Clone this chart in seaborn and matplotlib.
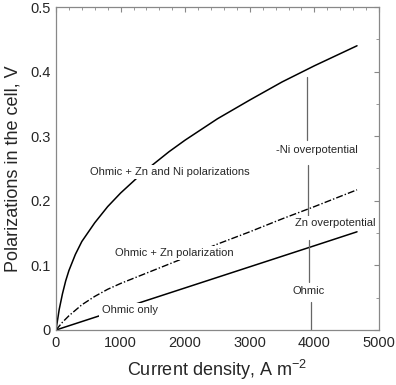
import matplotlib
matplotlib.use("Agg")
import matplotlib.pyplot as plt
import seaborn as sns
from matplotlib.ticker import MultipleLocator, FuncFormatter

# -----------------------------
# Data
# -----------------------------
# Ohmic + Zn and Ni polarizations (solid, top)
total_x = [0, 25, 50, 100, 150, 200, 300, 400, 600, 800, 1000, 1250, 1500,
           1750, 2000, 2500, 3000, 3500, 4000, 4660]
total_y = [0, 0.016, 0.032, 0.056, 0.076, 0.092, 0.117, 0.137, 0.166, 0.191,
           0.212, 0.235, 0.256, 0.276, 0.294, 0.327, 0.356, 0.384, 0.409, 0.440]

# Ohmic + Zn polarization (dash-dot)
zn_x = [0, 100, 200, 400, 600, 800, 1000, 1500, 2000, 2500, 3000, 3500,
        4000, 4660]
zn_y = [0, 0.012, 0.022, 0.039, 0.052, 0.063, 0.072, 0.092, 0.112, 0.133,
        0.152, 0.172, 0.191, 0.217]

# Ohmic only (solid, bottom)
ohmic_x = [0, 1000, 2000, 3000, 4000, 4660]
ohmic_y = [0, 0.0326, 0.0652, 0.0978, 0.1304, 0.152]

# gray marker segments near 3900 A m-2 (x, y_top, y_bottom)
seg_x = [3881, 3905, 3916, 3942]
seg_top = [0.392, 0.255, 0.139, 0.044]
seg_bot = [0.294, 0.175, 0.075, 0.0]

# curve labels (text, x, y)
labels = [
    ("Ohmic + Zn and Ni polarizations", 1765, 0.245),
    ("Ohmic + Zn polarization", 1827, 0.119),
    ("Ohmic only", 1138, 0.031),
    ("-Ni overpotential", 4035, 0.279),
    ("Zn overpotential", 4319, 0.166),
    ("Ohmic", 3916, 0.061),
]

# -----------------------------
# Plot
# -----------------------------
sns.set_style("white")
plt.rcParams['font.family'] = ['Liberation Sans', 'DejaVu Sans']
plt.rcParams['mathtext.fontset'] = 'custom'
plt.rcParams['mathtext.rm'] = 'Liberation Sans'

fig = plt.figure(figsize=(3.96, 3.85), dpi=100)
ax = fig.add_axes([0.1414, 0.1429, 0.8156, 0.8389])

sns.lineplot(x=total_x, y=total_y, color='black', linewidth=1.1, ax=ax)
sns.lineplot(x=zn_x, y=zn_y, color='black', linewidth=1.0,
             linestyle=(0, (5, 1.5, 1, 1.5)), ax=ax)
sns.lineplot(x=ohmic_x, y=ohmic_y, color='black', linewidth=1.1, ax=ax)

for x, yt, yb in zip(seg_x, seg_top, seg_bot):
    ax.plot([x, x], [yb, yt], color='#666666', linewidth=0.9)

for text, x, y in labels:
    ax.text(x, y, text, ha='center', va='center', fontsize=8,
            bbox=dict(facecolor='white', edgecolor='none', pad=1.5))

ax.set_xlim(0, 5000)
ax.set_ylim(0, 0.5)
ax.xaxis.set_major_locator(MultipleLocator(1000))
ax.xaxis.set_minor_locator(MultipleLocator(200))
ax.yaxis.set_major_locator(MultipleLocator(0.1))
ax.yaxis.set_minor_locator(MultipleLocator(0.05))
ax.yaxis.set_major_formatter(FuncFormatter(lambda v, p: '0' if v == 0 else f'{v:.1f}'))

ax.tick_params(which='both', direction='in', top=True, right=True,
               color='#888888', labelsize=10.5, pad=4)
ax.tick_params(which='major', length=3.5, width=0.8)
ax.tick_params(which='minor', length=2.5, width=0.6)
for s in ax.spines.values():
    s.set_color('#888888')
    s.set_linewidth(0.9)

ax.set_xlabel('Current density, A m$^{-2}$', fontsize=13, labelpad=6)
ax.set_ylabel('Polarizations in the cell, V', fontsize=13, labelpad=6)

fig.savefig('out.png', dpi=100)
